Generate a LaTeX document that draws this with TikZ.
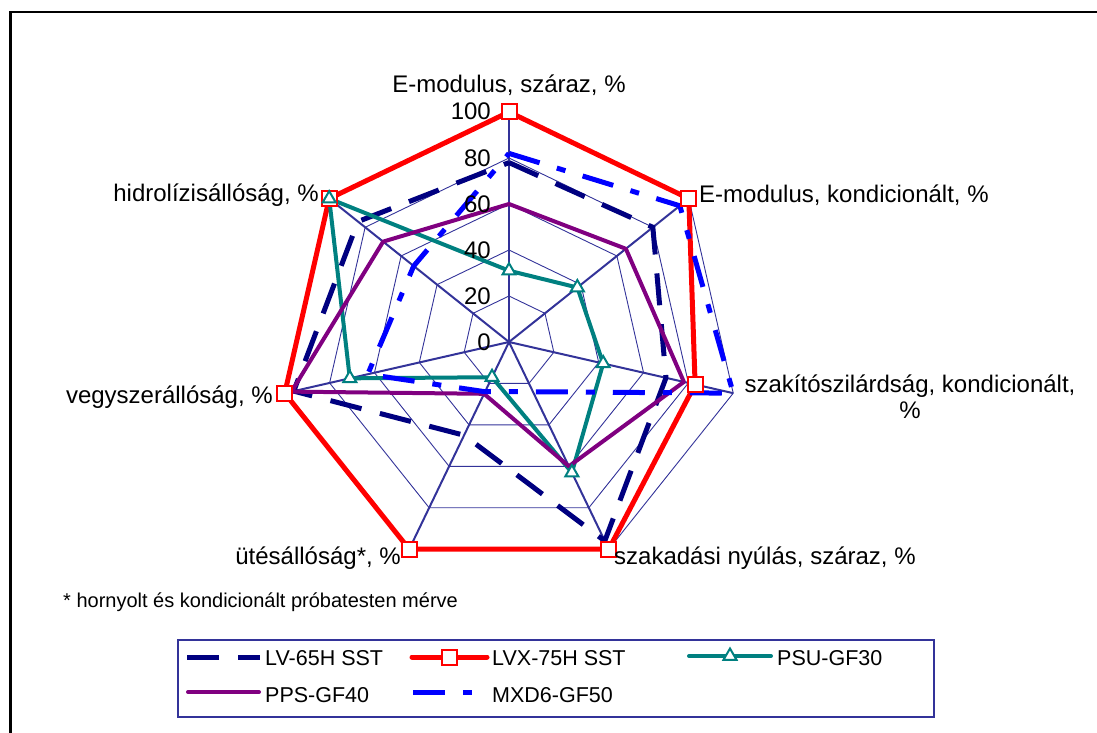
\documentclass[tikz,border=0pt]{standalone}
\usepackage{fontspec}
\setmainfont{Liberation Sans}
\usetikzlibrary{shapes.geometric}

\definecolor{gridblue}{HTML}{333399}
\definecolor{lvnavy}{HTML}{000080}
\definecolor{lvxred}{HTML}{FF0000}
\definecolor{psuteal}{HTML}{008080}
\definecolor{ppspurple}{HTML}{800080}
\definecolor{mxdblue}{HTML}{0000FF}

\tikzset{
  ring/.style={gridblue, line width=0.9pt},
  spoke/.style={gridblue, line width=2pt},
  lvline/.style={lvnavy, line width=5pt, dash pattern=on 32pt off 19pt},
  lvxline/.style={lvxred, line width=5pt, line join=round, line cap=round},
  psuline/.style={psuteal, line width=4pt, line join=round, line cap=round},
  ppsline/.style={ppspurple, line width=4pt, line join=round, line cap=round},
  mxdline/.style={mxdblue, line width=5pt, dash pattern=on 32pt off 18pt on 9pt off 18pt},
  redmark/.style={rectangle, draw=lvxred, fill=white, line width=2pt, minimum size=15pt, inner sep=0pt},
  tealmark/.style={regular polygon, regular polygon sides=3, draw=psuteal, fill=white, line width=2pt, minimum size=15pt, inner sep=0pt},
  axislabel/.style={font=\fontsize{24}{26.5}\selectfont, inner sep=0pt},
  tick/.style={font=\fontsize{24}{26.5}\selectfont, inner sep=0pt, anchor=base east},
  legtext/.style={font=\fontsize{21.5}{24}\selectfont, inner sep=0pt, anchor=base west},
  legbox/.style={draw=gridblue, line width=2pt}
}

\begin{document}
\begin{tikzpicture}[x=1pt, y=1pt]
    \useasboundingbox (0,0) rectangle (1097,-733);
    % Frame
    \draw[line width=2.5pt] (10.5,-745) -- (10.5,-12) -- (1110,-12);

    \begin{scope}[shift={(509,-342)}, scale=2.3]
        % Rings
        \foreach \r in {20,40,60,80,100}
            \draw[ring] (90:\r) \foreach \a in {38.571,-12.857,-64.286,-115.714,-167.143,141.429} {-- (\a:\r)} -- cycle;
        % Spokes
        \foreach \a in {90,38.571,-12.857,-64.286,-115.714,-167.143,141.429}
            \draw[spoke] (0,0) -- (\a:100);

        % LV-65H SST
        \draw[lvline] (90:78) -- (38.571:80) -- (-12.857:70) -- (-64.286:96) -- (-115.714:45) -- (-167.143:96) -- (141.429:84) -- cycle;
        % LVX-75H SST
        \draw[lvxline] (90:100) -- (38.571:100) -- (-12.857:83) -- (-64.286:100) -- (-115.714:100) -- (-167.143:100) -- (141.429:100) -- cycle;
        % PSU-GF30
        \draw[psuline] (90:31) -- (38.571:38) -- (-12.857:42) -- (-64.286:63) -- (-115.714:17) -- (-167.143:71) -- (141.429:100) -- cycle;
        % PPS-GF40
        \draw[ppsline] (90:60) -- (38.571:65) -- (-12.857:78) -- (-64.286:60) -- (-115.714:25) -- (-167.143:97) -- (141.429:70) -- cycle;
        % MXD6-GF50
        \draw[mxdline] (90:82) -- (38.571:95) -- (-12.857:100) -- (-64.286:24) -- (-115.714:24) -- (-167.143:63) -- (141.429:53) -- cycle;

        % Markers
        \foreach \a/\v [count=\i] in {90/100,38.571/100,-12.857/83,-64.286/100,-115.714/100,-167.143/100,141.429/100}
            \node[redmark] (lvx\i) at (\a:\v) {};
        \foreach \a/\v [count=\i] in {90/31,38.571/38,-12.857/42,-64.286/63,-115.714/17,-167.143/71,141.429/100}
            \node[tealmark] (psu\i) at (\a:\v) {};
    \end{scope}

    % Scale
    \foreach \v in {0,20,40,60,80,100}
        \node[tick] (tick\v) at (491, {2.3*\v-350}) {\v};

    % Axis labels
    \node[axislabel, anchor=base] (emodsz) at (509,-93) {E-modulus, száraz, \%};
    \node[axislabel, anchor=base west] (emodko) at (699,-202) {E-modulus, kondicionált, \%};
    \node[axislabel, anchor=base] (szakit) at (910,-392) {\begin{tabular}[t]{@{}c@{}}szakítószilárdság, kondicionált,\\ \%\end{tabular}};
    \node[axislabel, anchor=base west] (szakad) at (614,-564) {szakadási nyúlás, száraz, \%};
    \node[axislabel, anchor=base east] (utes) at (401,-564) {ütésállóság*, \%};
    \node[axislabel, anchor=base east] (vegy) at (273,-403) {vegyszerállóság, \%};
    \node[axislabel, anchor=base east] (hidro) at (319,-201) {hidrolízisállóság, \%};

    % Note
    \node[inner sep=0pt, anchor=base west, font=\fontsize{20}{24}\selectfont] (note) at (63,-607) {* hornyolt és kondicionált próbatesten mérve};

    % Legend
    \draw[legbox] (178,-640) rectangle (934,-717);
    \draw[lvline] (187,-657) -- (260,-657);
    \node[legtext] (leglv) at (265,-665) {LV-65H SST};
    \draw[lvxline] (412,-657) -- (487,-657);
    \node[redmark] (leglvxm) at (449.5,-657) {};
    \node[legtext] (leglvx) at (492,-665) {LVX-75H SST};
    \draw[psuline] (689,-656) -- (771,-656);
    \node[tealmark] (legpsum) at (730,-656) {};
    \node[legtext] (legpsu) at (777,-665) {PSU-GF30};
    \draw[ppsline] (188,-692) -- (259,-692);
    \node[legtext] (legpps) at (265,-702) {PPS-GF40};
    \draw[mxdline] (413,-692) -- (487,-692);
    \node[legtext] (legmxd) at (492,-702) {MXD6-GF50};
\end{tikzpicture}
\end{document}
